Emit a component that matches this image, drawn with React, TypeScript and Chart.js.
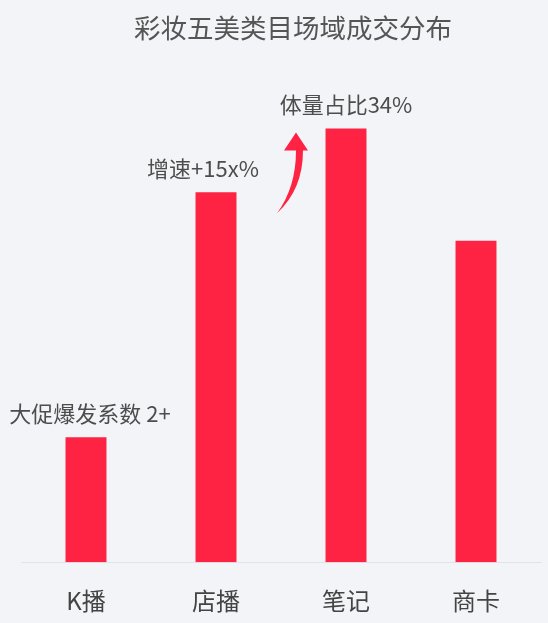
import React, { useEffect, useRef } from "react";
import { Chart, ChartConfiguration, Plugin, registerables } from "chart.js";

const categories = ["K播", "店播", "笔记", "商卡"];
const shares = [9.8, 29, 34, 25.2];
const notes = ["大促爆发系数 2+", "增速+15x%", "体量占比34%", ""];
const title = "彩妆五美类目场域成交分布";

const FONT = '"Noto Sans CJK SC", "Noto Sans", sans-serif';
const RED = "#FE2343";
const BG = "#F3F4F8";

// title, annotations above the bars and the curved arrow between bar 2 and 3
const notesPlugin: Plugin<"bar"> = {
	id: "notes",
	afterDatasetsDraw(chart) {
		const ctx = chart.ctx;
		const bars = chart.getDatasetMeta(0).data as any[];
		ctx.save();
		ctx.textAlign = "center";
		ctx.textBaseline = "middle";
		ctx.fillStyle = "#555";
		ctx.font = `26.5px ${FONT}`;
		ctx.fillText(title, chart.chartArea.left + 272, 28);

		ctx.fillStyle = "#4d4d4d";
		ctx.font = `22px ${FONT}`;
		bars.forEach((b, i) => {
			if (!notes[i]) return;
			const dx = i === 0 ? 4 : i === 1 ? -13 : 0;
			ctx.fillText(notes[i], b.x + dx, b.y - 24);
		});

		const b2 = bars[1];
		const b3 = bars[2];
		const mx = (b2.x + b3.x) / 2;
		const tail = { x: mx - 4, y: b2.y + 21 };
		const tipY = b3.y + 4;
		ctx.fillStyle = RED;
		ctx.beginPath();
		ctx.moveTo(tail.x, tail.y);
		ctx.quadraticCurveTo(mx + 22, tail.y - 24, mx + 22, tipY + 18);
		ctx.lineTo(mx + 27, tipY + 18);
		ctx.lineTo(mx + 15, tipY);
		ctx.lineTo(mx + 3, tipY + 18);
		ctx.lineTo(mx + 15, tipY + 18);
		ctx.quadraticCurveTo(mx + 15, tail.y - 26, tail.x, tail.y);
		ctx.closePath();
		ctx.fill();
		ctx.restore();
	},
};

const App: React.FC = () => {
	const canvasRef = useRef<HTMLCanvasElement | null>(null);
	const chart = useRef<Chart | null>(null);

	useEffect(() => {
		document.body.style.margin = "0";
		document.body.style.background = BG;
		if (canvasRef.current) {
			const ctx = canvasRef.current.getContext("2d");
			if (ctx) {
				Chart.register(...registerables);
				const config = {
					type: "bar",
					data: {
						labels: categories,
						datasets: [
							{
								data: shares,
								backgroundColor: RED,
								categoryPercentage: 1,
								barPercentage: 0.315,
							},
						],
					},
					options: {
						animation: false,
						responsive: false,
						layout: { padding: { top: 52, left: 21, right: 7, bottom: 8 } },
						plugins: {
							legend: { display: false },
							tooltip: { enabled: false },
							title: { display: false },
						},
						scales: {
							x: {
								grid: { display: false, drawTicks: false },
								border: { display: true, color: "#e2e3e7", width: 1 },
								ticks: {
									color: "#444",
									padding: 24,
									font: { family: FONT, size: 24 },
								},
							},
							y: {
								display: false,
								min: 0,
								max: 40,
							},
						},
					},
					plugins: [notesPlugin],
				} as ChartConfiguration;
				chart.current = new Chart(ctx, config);
			}
		}
		return () => {
			if (chart.current) {
				chart.current.destroy();
				chart.current = null;
			}
		};
	}, []);

	return (
		<div style={{ width: 548, height: 623, overflow: "hidden", background: BG }}>
			<canvas ref={canvasRef} width={548} height={647} />
		</div>
	);
};

export default App;
